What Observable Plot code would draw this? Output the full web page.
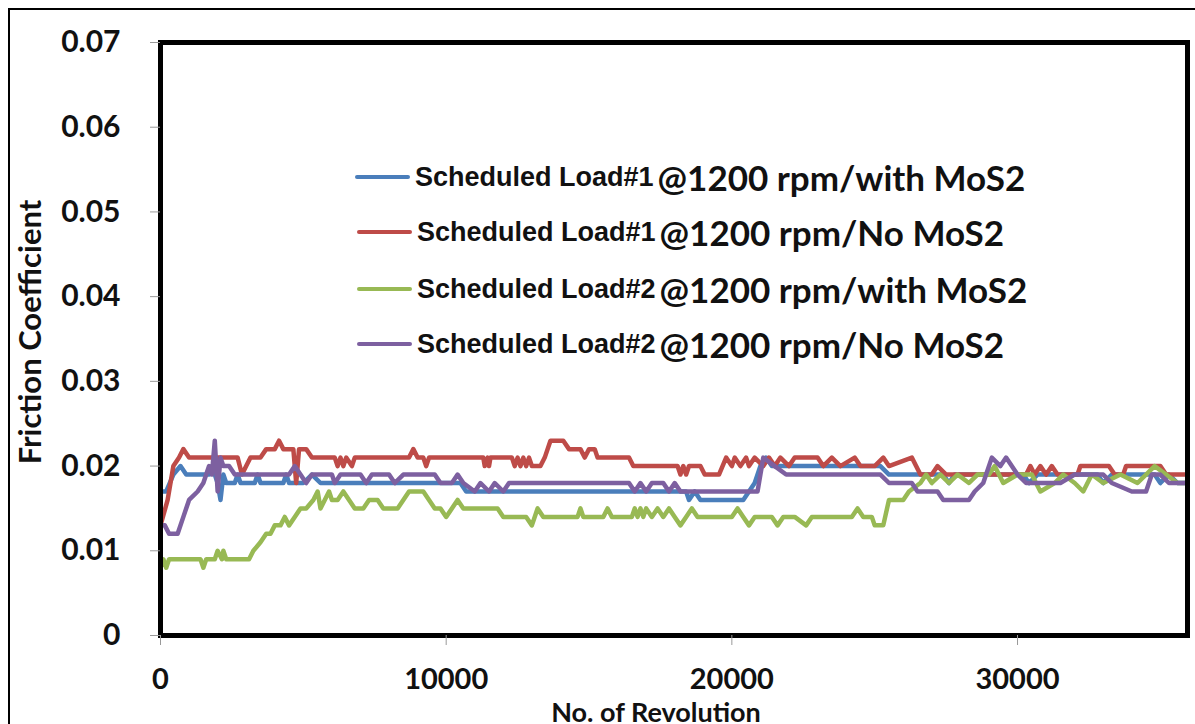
<!DOCTYPE html>
<html>
<head>
<meta charset="utf-8">
<script src="https://cdn.jsdelivr.net/npm/d3@7"></script>
<script src="https://cdn.jsdelivr.net/npm/@observablehq/plot@0.6"></script>
<style>
  html, body { margin: 0; padding: 0; background: #fff; overflow: hidden; width: 1195px; height: 724px; }
  #wrap { position: relative; width: 1195px; height: 724px; }
  #outer { position: absolute; left: 8px; top: 8px; width: 1200px; height: 800px; border: 2.5px solid #000; box-sizing: border-box; pointer-events: none; }
  #chart { position: absolute; left: 0; top: 0; }
  #legend { position: absolute; left: 0; top: 0; }
  .row { position: absolute; display: flex; align-items: center; height: 40px; white-space: nowrap; }
  .swatch { width: 55px; height: 4px; border-radius: 2px; margin-right: 5px; }
  .lead { font-family: "Liberation Sans", Arial, sans-serif; font-weight: bold; font-size: 27px; color: #111; }
  .tail { font-family: Lato, "Open Sans", sans-serif; font-weight: bold; font-size: 35px; color: #111; margin-left: 4px; }
</style>
</head>
<body>
<div id="wrap">
  <div id="chart"></div>
  <div id="legend"></div>
  <div id="outer"></div>
</div>
<script>
// ---- data (No. of Revolution, Friction Coefficient) ----
const seriesNames = [
  "Scheduled Load#1 @1200 rpm/with MoS2",
  "Scheduled Load#1 @1200 rpm/No MoS2",
  "Scheduled Load#2 @1200 rpm/with MoS2",
  "Scheduled Load#2 @1200 rpm/No MoS2"
];
const legendLead = ["Scheduled Load#1", "Scheduled Load#1", "Scheduled Load#2", "Scheduled Load#2"];
const legendTail = ["@1200 rpm/with MoS2", "@1200 rpm/No MoS2", "@1200 rpm/with MoS2", "@1200 rpm/No MoS2"];
const seriesColors = ["#4a7ebb", "#be4b48", "#98b954", "#7d60a0"];

const load1WithMoS2 = [
  [0,0.017],[200,0.017],[450,0.019],[700,0.020],[900,0.019],[1700,0.019],[1800,0.020],[1900,0.019],
  [2000,0.018],[2100,0.016],[2200,0.019],[2300,0.018],[2600,0.018],[2700,0.019],[2800,0.018],
  [3300,0.018],[3400,0.019],[3500,0.018],[4300,0.018],[4400,0.019],[4500,0.018],[5000,0.018],
  [5300,0.019],[5600,0.018],[10500,0.018],[10700,0.017],[18400,0.017],[18500,0.016],[18700,0.017],
  [18900,0.016],[20400,0.016],[20600,0.017],[20800,0.018],[21000,0.020],[21200,0.021],[21400,0.020],
  [25200,0.020],[25500,0.019],[27400,0.019],[27600,0.018],[27800,0.019],[30200,0.019],[30400,0.018],
  [30700,0.019],[32800,0.019],[33000,0.018],[33300,0.019],[34800,0.019],[35000,0.018],[35300,0.019],
  [35600,0.018],[35950,0.018]
];
const load1NoMoS2 = [
  [0,0.013],[250,0.016],[450,0.020],[650,0.021],[800,0.022],[1000,0.021],[2700,0.021],[2850,0.019],
  [3000,0.020],[3150,0.021],[3500,0.021],[3700,0.022],[4000,0.022],[4150,0.023],[4300,0.022],
  [4650,0.022],[4750,0.018],[4850,0.022],[5100,0.022],[5300,0.021],[6100,0.021],[6200,0.020],
  [6300,0.021],[6400,0.020],[6500,0.021],[6700,0.020],[6800,0.021],[8700,0.021],[8850,0.022],
  [9000,0.021],[9200,0.021],[9300,0.020],[9400,0.021],[11300,0.021],[11350,0.020],[11450,0.021],
  [11500,0.020],[11550,0.021],[12300,0.021],[12400,0.020],[12500,0.021],[12600,0.020],[12700,0.021],
  [12800,0.020],[12900,0.021],[13000,0.020],[13300,0.020],[13450,0.021],[13650,0.023],[14100,0.023],
  [14300,0.022],[14700,0.022],[14850,0.021],[15000,0.022],[15200,0.022],[15300,0.021],[16400,0.021],
  [16550,0.020],[18100,0.020],[18200,0.019],[18300,0.020],[18400,0.019],[18500,0.020],[18900,0.020],
  [19050,0.019],[19550,0.019],[19800,0.021],[20000,0.020],[20100,0.021],[20300,0.020],[20500,0.021],
  [20600,0.020],[20800,0.021],[21100,0.020],[21300,0.021],[21500,0.020],[21700,0.021],[22000,0.020],
  [22200,0.021],[23000,0.021],[23200,0.020],[23500,0.021],[23800,0.020],[24300,0.021],[24500,0.020],
  [25000,0.020],[25300,0.021],[25500,0.020],[26300,0.021],[26600,0.019],[27000,0.019],[27200,0.020],
  [27500,0.019],[30300,0.019],[30450,0.020],[30600,0.019],[30800,0.020],[31000,0.019],[31200,0.020],
  [31400,0.019],[32100,0.019],[32200,0.020],[33200,0.020],[33400,0.019],[33700,0.019],[33800,0.020],
  [35000,0.020],[35200,0.019],[35950,0.019]
];
const load2WithMoS2 = [
  [0,0.008],[100,0.009],[200,0.008],[300,0.009],[1400,0.009],[1500,0.008],[1600,0.009],[1900,0.009],
  [2000,0.010],[2150,0.009],[2200,0.010],[2300,0.009],[3100,0.009],[3250,0.010],[3500,0.011],
  [3700,0.012],[3850,0.012],[4000,0.013],[4200,0.013],[4350,0.014],[4500,0.013],[4700,0.014],
  [4900,0.015],[5100,0.015],[5350,0.016],[5500,0.017],[5600,0.015],[5750,0.016],[5900,0.017],
  [6000,0.016],[6200,0.016],[6400,0.017],[6600,0.016],[6800,0.015],[7100,0.015],[7300,0.016],
  [7600,0.016],[7800,0.015],[8300,0.015],[8500,0.016],[8700,0.017],[9200,0.017],[9400,0.016],
  [9600,0.015],[9800,0.015],[10000,0.014],[10200,0.015],[10400,0.016],[10600,0.015],[11800,0.015],
  [12000,0.014],[12800,0.014],[13000,0.013],[13200,0.015],[13400,0.014],[14600,0.014],[14700,0.015],
  [14800,0.014],[15500,0.014],[15650,0.015],[15800,0.014],[16500,0.014],[16600,0.015],[16700,0.014],
  [16800,0.015],[16900,0.014],[17000,0.015],[17200,0.014],[17400,0.015],[17600,0.014],[17800,0.015],
  [18000,0.014],[18200,0.013],[18400,0.014],[18600,0.015],[18800,0.014],[20000,0.014],[20200,0.015],
  [20400,0.014],[20600,0.013],[20800,0.014],[21400,0.014],[21600,0.013],[21800,0.014],[22200,0.014],
  [22600,0.013],[22800,0.014],[24200,0.014],[24400,0.015],[24600,0.014],[24900,0.014],[25000,0.013],
  [25300,0.013],[25500,0.016],[26000,0.016],[26200,0.017],[26600,0.018],[26800,0.019],[27000,0.018],
  [27300,0.019],[27600,0.018],[27900,0.019],[28300,0.018],[28600,0.019],[29000,0.019],[29200,0.020],
  [29500,0.018],[30000,0.019],[30500,0.019],[30800,0.017],[31300,0.018],[31600,0.019],[32000,0.018],
  [32300,0.017],[32600,0.019],[33000,0.018],[33600,0.019],[34200,0.018],[34800,0.020],[35200,0.019],
  [35600,0.018],[35950,0.018]
];
const load2NoMoS2 = [
  [0,0.013],[150,0.013],[300,0.012],[600,0.012],[800,0.014],[1000,0.016],[1300,0.017],[1500,0.018],
  [1700,0.020],[1800,0.019],[1900,0.023],[2000,0.017],[2100,0.021],[2200,0.020],[2400,0.020],
  [2600,0.019],[4500,0.019],[4700,0.020],[4900,0.019],[5100,0.018],[5300,0.019],[6000,0.019],
  [6100,0.018],[6300,0.019],[7000,0.019],[7200,0.018],[7400,0.019],[8000,0.019],[8200,0.018],
  [8500,0.019],[9600,0.019],[9800,0.018],[10200,0.018],[10400,0.019],[10600,0.018],[11000,0.017],
  [11200,0.018],[11500,0.017],[11700,0.018],[12000,0.017],[12200,0.018],[16400,0.018],[16600,0.017],
  [16800,0.018],[17000,0.017],[17200,0.018],[17600,0.018],[17800,0.017],[18000,0.018],[18200,0.017],
  [20900,0.017],[21100,0.021],[21500,0.020],[21900,0.019],[25200,0.019],[25500,0.018],[26300,0.018],
  [26500,0.017],[27200,0.017],[27400,0.016],[28300,0.016],[28500,0.017],[28800,0.018],[29100,0.021],
  [29400,0.020],[29600,0.021],[30000,0.019],[30300,0.018],[31500,0.018],[32000,0.019],[33000,0.019],
  [33300,0.018],[34000,0.017],[34500,0.017],[34700,0.019],[35000,0.019],[35300,0.018],[35950,0.018]
];
const yTicks = [0, 0.01, 0.02, 0.03, 0.04, 0.05, 0.06, 0.07];
const xTicks = [0, 10000, 20000, 30000];

const allSeries = [load1WithMoS2, load1NoMoS2, load2WithMoS2, load2NoMoS2];
const rows = allSeries.flatMap((s, i) => s.map(([rev, cof]) => ({series: seriesNames[i], rev, cof})));

const chart = Plot.plot({
  width: 1195,
  height: 724,
  marginLeft: 160,
  marginTop: 42,
  marginRight: 8,
  marginBottom: 89,
  style: {fontFamily: "Lato, 'Open Sans', sans-serif", fontWeight: "bold", fontSize: "30px", color: "#111", background: "transparent", overflow: "visible"},
  x: {domain: [0, 35950]},
  y: {domain: [0, 0.07]},
  color: {domain: seriesNames, range: seriesColors},
  marks: [
    Plot.line(rows, {x: "rev", y: "cof", z: "series", stroke: "series", strokeWidth: 4.5, strokeLinejoin: "round", strokeLinecap: "round"}),
    Plot.frame({stroke: "#000", strokeWidth: 5}),
    Plot.axisY({ticks: yTicks, tickSize: 10, tickPadding: 30, stroke: "#999", tickFormat: d => d === 0 ? "0" : d.toFixed(2),
      label: "Friction Coefficient", labelAnchor: "center", labelOffset: 142, labelArrow: "none", fontSize: 30}),
    Plot.axisX({ticks: xTicks, tickSize: 10, tickPadding: 23, stroke: "#999", tickFormat: d => String(d),
      label: "No. of Revolution", labelAnchor: "center", labelOffset: 86, labelArrow: "none", fontSize: 29})
  ]
});
document.getElementById("chart").appendChild(chart);

// axis titles: size and small offsets
chart.querySelectorAll("text").forEach(t => {
  if (t.textContent === "Friction Coefficient") {
    t.setAttribute("font-size", "31");
    t.setAttribute("dx", "7");
  }
  if (t.textContent === "No. of Revolution") {
    t.setAttribute("font-size", "27");
    t.setAttribute("dx", "-18");
  }
});

// legend
const legendTops = [157, 212, 269, 324];
const legendLefts = [355, 357, 357, 357];
const legend = document.getElementById("legend");
seriesNames.forEach((name, i) => {
  const row = document.createElement("div");
  row.className = "row";
  row.style.top = legendTops[i] + "px";
  row.style.left = legendLefts[i] + "px";
  const sw = document.createElement("div");
  sw.className = "swatch";
  sw.style.background = seriesColors[i];
  const lead = document.createElement("span");
  lead.className = "lead";
  lead.textContent = legendLead[i];
  const tail = document.createElement("span");
  tail.className = "tail";
  tail.textContent = legendTail[i];
  row.append(sw, lead, tail);
  legend.appendChild(row);
});
</script>
</body>
</html>
